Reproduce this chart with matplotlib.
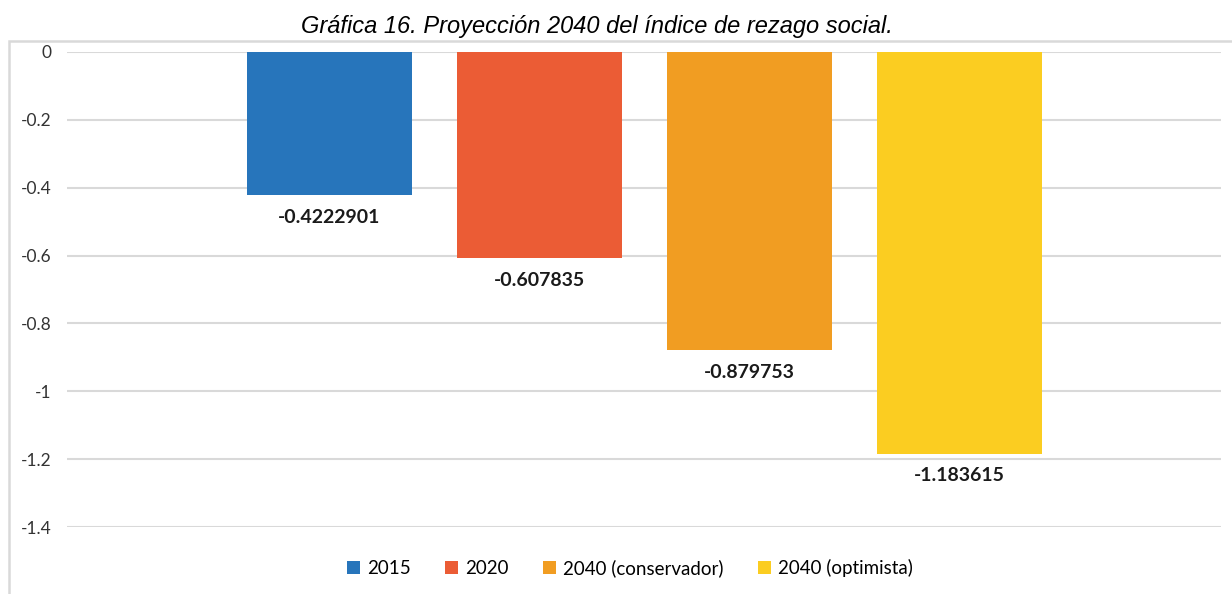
from matplotlib import pyplot as plt
from matplotlib.patches import Rectangle
import numpy as np

series = ['2015', '2020', '2040 (conservador)', '2040 (optimista)']
values = [-0.4222901, -0.607835, -0.879753, -1.183615]
value_labels = ['-0.4222901', '-0.607835', '-0.879753', '-1.183615']
colors = ['#2775BB', '#EB5C35', '#F19D22', '#FBCD21']
yticks = [0, -0.2, -0.4, -0.6, -0.8, -1.0, -1.2, -1.4]
ytick_labels = ['0', '-0.2', '-0.4', '-0.6', '-0.8', '-1', '-1.2', '-1.4']

W, H = 1232, 594
fig = plt.figure(figsize=(W / 100, H / 100), dpi=100)
ax = fig.add_axes([67 / W, 1 - 527 / H, (1221 - 67) / W, (527 - 52) / H])

# outer chart frame (cut off at right/bottom as in the source)
fig.patches.append(Rectangle((9 / W, -0.05), 1.1, 1 - 41 / H + 0.05,
                             transform=fig.transFigure, fill=False,
                             edgecolor='#d9d9d9', linewidth=1.8, zorder=0))

bar_w = 165 / 1154
step = 210 / 1154
for i, (name, v, lab, c) in enumerate(zip(series, values, value_labels, colors)):
    x = (i - 1.5) * step
    ax.bar(x, v, width=bar_w, color=c, label=name, zorder=3)
    ax.text(x, v - 0.04, lab, ha='center', va='top', fontsize=14,
            fontweight='bold', family='Lato', color='#1a1a1a')

ax.set_xlim(-0.5, 0.5)
ax.set_ylim(-1.4, 0)
ax.set_yticks(yticks)
ax.set_yticklabels(ytick_labels, family='Lato', fontsize=12.5, color='#333333')
ax.tick_params(axis='y', length=0, pad=11)
ax.set_xticks([])
ax.grid(axis='y', color='#d9d9d9', linewidth=1.5, zorder=0)
ax.set_axisbelow(True)
for s in ax.spines.values():
    s.set_visible(False)

fig.text(597 / W, 1 - 27 / H, 'Gráfica 16. Proyección 2040 del índice de rezago social.',
         ha='center', va='center', fontsize=17, style='italic', family='Liberation Sans')

leg = fig.legend(loc='center', bbox_to_anchor=(630 / W, 1 - 568 / H), ncol=4,
                 frameon=False, prop={'family': 'Lato', 'size': 13.5},
                 handlelength=0.7, handleheight=0.7, handletextpad=0.4,
                 columnspacing=1.8)

fig.savefig('out.png', dpi=100)
